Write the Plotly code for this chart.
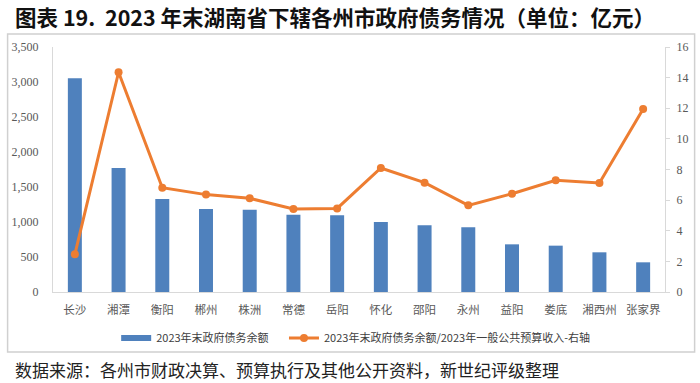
import plotly.graph_objects as go

categories = ["长沙", "湘潭", "衡阳", "郴州", "株洲", "常德", "岳阳", "怀化", "邵阳", "永州", "益阳", "娄底", "湘西州", "张家界"]
debt_balance = [3053, 1771, 1330, 1186, 1176, 1105, 1095, 1000, 952, 924, 681, 662, 567, 424]
debt_ratio = [2.46, 14.35, 6.81, 6.36, 6.12, 5.42, 5.46, 8.10, 7.14, 5.66, 6.42, 7.29, 7.12, 11.95]
left_ticks = list(range(0, 3501, 500))
right_ticks = list(range(0, 17, 2))

W, H = 700, 383
L, R, T, B = 47, 33, 47, 91
pw, ph = W - L - R, H - T - B

def px(x):
    return (x - L) / pw

def py(y):
    return (H - B - y) / ph

BLUE = "#4f81bd"
ORANGE = "#ed7d31"

fig = go.Figure()
fig.add_trace(go.Bar(
    x=categories, y=debt_balance, name="2023年末政府债务余额",
    marker=dict(color=BLUE, line=dict(width=0)), width=0.32, yaxis="y",
    showlegend=False,
))
# legend swatch for the bar series (wide bar-like symbol)
fig.add_trace(go.Scatter(
    x=[None], y=[None], name="2023年末政府债务余额", mode="lines",
    line=dict(color=BLUE, width=6), yaxis="y", showlegend=True, legend="legend",
))
fig.add_trace(go.Scatter(
    x=categories, y=debt_ratio, name="2023年末政府债务余额/2023年一般公共预算收入-右轴",
    mode="lines+markers", line=dict(color=ORANGE, width=3),
    marker=dict(color=ORANGE, size=8), yaxis="y2", legend="legend2",
))

axis_font = dict(family="Liberation Serif, serif", size=12, color="#595959")
legend_font = dict(family="Noto Sans CJK SC", size=11, color="#404040")
fig.update_layout(
    width=W, height=H,
    margin=dict(l=L, r=R, t=T, b=B),
    paper_bgcolor="white", plot_bgcolor="white",
    xaxis=dict(showline=True, linecolor="#d9d9d9", linewidth=1, ticks="",
               range=[-0.5, len(categories) - 0.5],
               tickfont=dict(family="Noto Sans CJK SC", size=11.5, color="#595959"),
               ticklabelstandoff=7, showgrid=False, fixedrange=True),
    yaxis=dict(range=[0, 3500], tickvals=left_ticks, tickformat=",", showgrid=False,
               showline=True, linecolor="#d9d9d9", ticks="", tickfont=axis_font,
               ticklabelstandoff=11, zeroline=False),
    yaxis2=dict(range=[0, 16], tickvals=right_ticks, overlaying="y", side="right",
                showgrid=False, showline=True, linecolor="#d9d9d9", ticks="outside",
                ticklen=4, tickcolor="#d9d9d9", tickfont=axis_font, zeroline=False,
                ticklabelstandoff=4),
    legend=dict(orientation="h", x=px(111), xanchor="left", y=py(338), yanchor="middle",
                font=legend_font, bgcolor="rgba(0,0,0,0)", itemwidth=30),
    legend2=dict(orientation="h", x=px(281), xanchor="left", y=py(338), yanchor="middle",
                 font=legend_font, bgcolor="rgba(0,0,0,0)", itemwidth=30),
    font=dict(family="Noto Sans CJK SC"),
    showlegend=True,
)

fig.add_shape(type="rect", xref="paper", yref="paper",
              x0=px(1), x1=px(697), y0=py(352), y1=py(34),
              line=dict(color="#d0d0d0", width=1.5), fillcolor="rgba(0,0,0,0)", layer="below")

fig.add_annotation(text="<b>图表 19.  2023 年末湖南省下辖各州市政府债务情况（单位：亿元）</b>",
                   xref="paper", yref="paper", x=px(6), y=py(16), xanchor="left", yanchor="middle",
                   showarrow=False, font=dict(family="Noto Sans CJK SC", size=21.5, color="#111111"))
fig.add_annotation(text="数据来源：各州市财政决算、预算执行及其他公开资料，新世纪评级整理",
                   xref="paper", yref="paper", x=px(6), y=py(369), xanchor="left", yanchor="middle",
                   showarrow=False, font=dict(family="Noto Sans CJK SC", size=17, color="#222222"))

fig.write_html("out.html", config={"displayModeBar": False},
               post_script="document.body.style.margin='0';")
